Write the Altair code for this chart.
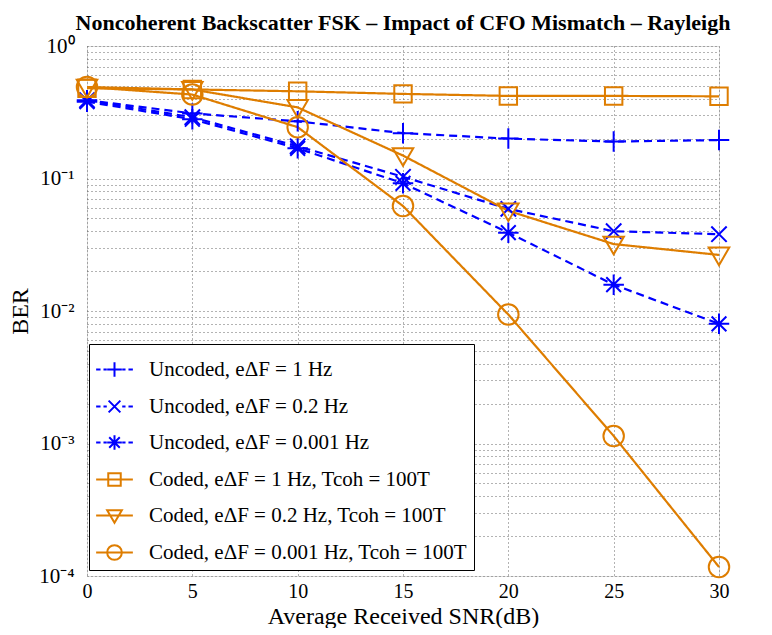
import altair as alt
import pandas as pd

snr = [0, 5, 10, 15, 20, 25, 30]
series_names = [
    "Uncoded, eΔF = 1 Hz",
    "Uncoded, eΔF = 0.2 Hz",
    "Uncoded, eΔF = 0.001 Hz",
    "Coded, eΔF = 1 Hz, Tcoh = 100T",
    "Coded, eΔF = 0.2 Hz, Tcoh = 100T",
    "Coded, eΔF = 0.001 Hz, Tcoh = 100T",
]
unc_1 = [0.39, 0.31, 0.27, 0.22, 0.20, 0.19, 0.195]
unc_02 = [0.39, 0.29, 0.175, 0.103, 0.059, 0.040, 0.038]
unc_0001 = [0.38, 0.28, 0.169, 0.092, 0.039, 0.0158, 0.008]
cod_1 = [0.48, 0.47, 0.455, 0.435, 0.42, 0.42, 0.417]
cod_02 = [0.49, 0.47, 0.344, 0.149, 0.057, 0.032, 0.0265]
cod_0001 = [0.49, 0.43, 0.244, 0.062, 0.0094, 0.00114, 0.000117]
all_series = [unc_1, unc_02, unc_0001, cod_1, cod_02, cod_0001]

BLUE = "#0000FF"
ORANGE = "#DE7D00"
colors = [BLUE, BLUE, BLUE, ORANGE, ORANGE, ORANGE]
dashes = [[8, 5], [8, 5], [8, 5], [1, 0], [1, 0], [1, 0]]

plus = "M-1,0H1M0,-1V1"
xmark = "M-0.75,-0.75L0.75,0.75M-0.75,0.75L0.75,-0.75"
ast = "M-1,0H1M0,-1V1M-0.72,-0.72L0.72,0.72M-0.72,0.72L0.72,-0.72"
square = "M-0.85,-0.85H0.85V0.85H-0.85Z"
tri = "M-1,-0.72H1L0,1Z"
plot_shapes = [plus, xmark, ast, square, tri, "circle"]

r = 0.4
dash_line = "M-1,0H-0.76M-0.6,0H-0.42M0.42,0H0.6M0.76,0H1"
solid_line = "M-1,0H1"
leg_shapes = [
    dash_line + f"M-{r},0H{r}M0,-{r}V{r}",
    dash_line + f"M-{r*0.8},-{r*0.8}L{r*0.8},{r*0.8}M-{r*0.8},{r*0.8}L{r*0.8},-{r*0.8}",
    dash_line + f"M-{r},0H{r}M0,-{r}V{r}M-{r*0.72},-{r*0.72}L{r*0.72},{r*0.72}M-{r*0.72},{r*0.72}L{r*0.72},-{r*0.72}",
    solid_line + f"M-{r*0.85},-{r*0.85}H{r*0.85}V{r*0.85}H-{r*0.85}Z",
    solid_line + f"M-{r},-{r*0.72}H{r}L0,{r}Z",
    solid_line + f"M{r},0A{r},{r} 0 1,1 -{r},0A{r},{r} 0 1,1 {r},0",
]

rows = []
for name, vals in zip(series_names, all_series):
    for x, v in zip(snr, vals):
        rows.append({"snr": x, "ber": v, "series": name})
df = pd.DataFrame(rows)

yvals = []
for e in range(-4, 0):
    for m in range(1, 10):
        yvals.append(m * 10 ** e)
yvals.append(1.0)

label_expr = (
    "abs(log(datum.value)/LN10 - round(log(datum.value)/LN10)) > 0.001 ? '' : "
    "round(log(datum.value)/LN10) == 0 ? '10⁰' : "
    "round(log(datum.value)/LN10) == -1 ? '10⁻¹' : "
    "round(log(datum.value)/LN10) == -2 ? '10⁻²' : "
    "round(log(datum.value)/LN10) == -3 ? '10⁻³' : '10⁻⁴'"
)

FONT = "Liberation Serif"

x_enc = alt.X(
    "snr:Q",
    scale=alt.Scale(domain=[0, 30], nice=False),
    axis=alt.Axis(
        values=snr, title="Average Received SNR(dB)", grid=True,
        gridDash=[1, 3], gridColor="#666666", ticks=False, domain=False,
        labelFont=FONT, labelFontSize=20, labelColor="black", labelPadding=5,
        titleFont=FONT, titleFontSize=24, titleFontWeight="normal",
        titleColor="black", titlePadding=3, labelFlush=False,
    ),
)
y_enc = alt.Y(
    "ber:Q",
    scale=alt.Scale(type="log", domain=[1e-4, 1], nice=False),
    axis=alt.Axis(
        values=yvals, labelExpr=label_expr, title="BER", grid=True,
        gridDash=[1, 3], gridColor="#666666", ticks=False, domain=False,
        labelFont=FONT, labelFontSize=21, labelColor="black", labelPadding=13,
        titleFont=FONT, titleFontSize=24, titleFontWeight="normal",
        titleColor="black", titlePadding=6, labelFlush=False,
    ),
)

lines = alt.Chart(df).mark_line(strokeWidth=2.2).encode(
    x=x_enc,
    y=y_enc,
    color=alt.Color("series:N", scale=alt.Scale(domain=series_names, range=colors), legend=None),
    strokeDash=alt.StrokeDash("series:N", scale=alt.Scale(domain=series_names, range=dashes), legend=None),
    detail="series:N",
)

points = alt.Chart(df).mark_point(filled=False, strokeWidth=2, size=420, opacity=1).encode(
    x="snr:Q",
    y="ber:Q",
    color=alt.Color("series:N", scale=alt.Scale(domain=series_names, range=colors), legend=None),
    shape=alt.Shape("series:N", scale=alt.Scale(domain=series_names, range=plot_shapes), legend=None),
)

legend_layer = alt.Chart(df).mark_point(filled=False, strokeWidth=2, opacity=0).encode(
    x="snr:Q",
    y="ber:Q",
    color=alt.Color("series:N", scale=alt.Scale(domain=series_names, range=colors), title=None),
    shape=alt.Shape(
        "series:N",
        scale=alt.Scale(domain=series_names, range=leg_shapes),
        title=None,
        legend=alt.Legend(
            orient="none", legendX=2, legendY=298,
            symbolSize=1350, symbolStrokeWidth=2, labelFont=FONT,
            labelFontSize=21, labelColor="black", labelOffset=15,
            padding=6, rowPadding=6, strokeColor="black", fillColor="white",
            labelLimit=500, symbolOpacity=1,
        ),
    ),
)

chart = alt.layer(lines, points, legend_layer).resolve_scale(
    color="independent", shape="independent"
).properties(
    width=632, height=530,
    padding={"left": 0, "top": 4, "right": 0, "bottom": 0},
    title=alt.TitleParams(
        "Noncoherent Backscatter FSK – Impact of CFO Mismatch – Rayleigh",
        font=FONT, fontSize=22, fontWeight="bold", color="black",
        anchor="middle", offset=0,
    ),
).configure_view(stroke="black", strokeWidth=1.2).configure(background="white")

chart.save("out.html", embed_options={"renderer": "svg", "actions": False})
